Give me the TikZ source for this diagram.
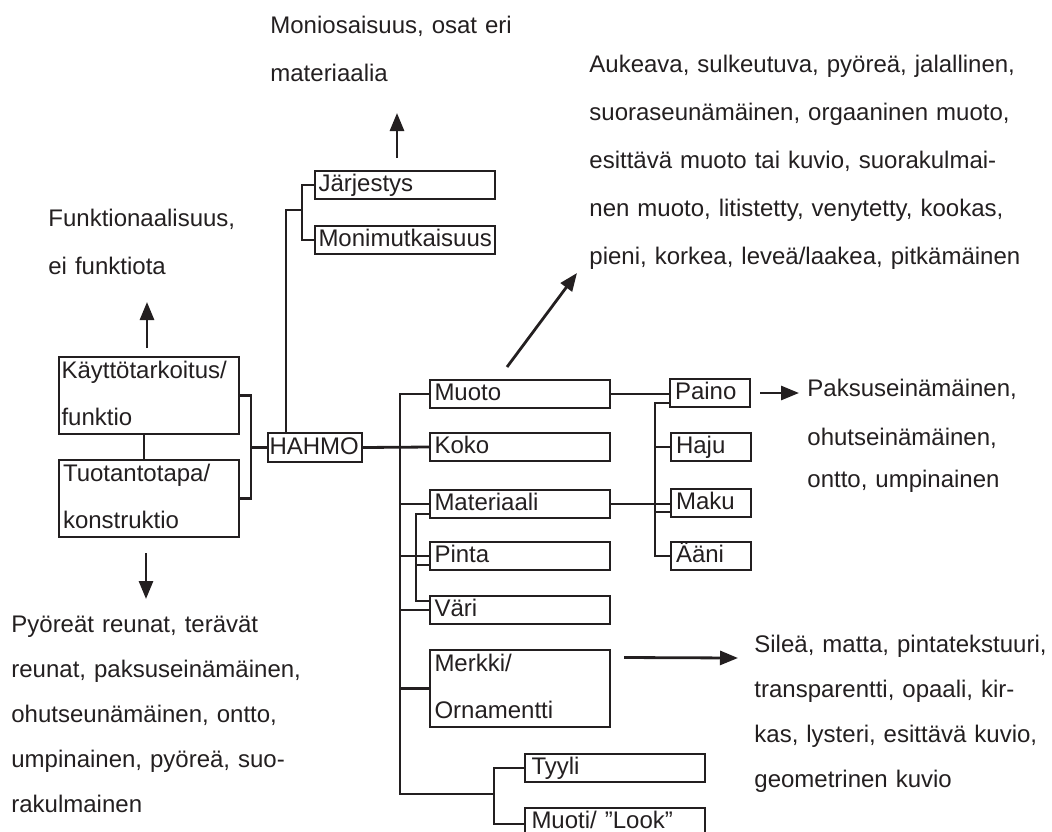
\documentclass[tikz,border=0pt]{standalone}
\usepackage{fontspec}
\setmainfont{Liberation Sans}
\usetikzlibrary{arrows.meta,calc}
\definecolor{ink}{RGB}{35,31,32}
\begin{document}
\begin{tikzpicture}[x=1pt,y=-1pt,
  line width=2.8pt, color=ink,
  bx/.style={draw, rectangle, anchor=north west, outer sep=0pt, inner ysep=0pt,
    align=left, font=\fontsize{24}{47}\selectfont,
    text height=17pt, text depth=4pt, minimum height=28pt},
  bx2/.style={bx, text depth=51pt, minimum height=77pt},
  note/.style={anchor=base west, inner sep=0pt, align=left, text width=440pt,
    font=\fontsize{24}{48}\selectfont},
  notec/.style={note, font=\fontsize{24}{45}\selectfont},
  arr/.style={-{Triangle[length=18pt,width=14pt]}}
]
\useasboundingbox (0,0) rectangle (1052,831);
\clip (0,0) rectangle (1052,831);

% boxes
\node[bx, text width=173pt, inner xsep=3.5pt] (jarj) at (315,171) {Järjestys};
\node[bx, text width=173pt, inner xsep=3.5pt] (moni) at (315,226) {Monimutkaisuus};
\node[bx2, text width=175pt, inner xsep=2.5pt] (kayt) at (59,357) {Käyttötarkoitus/\\funktio};
\node[bx2, text width=172pt, inner xsep=4pt] (tuot) at (59,460) {Tuotantotapa/\\konstruktio};
\node[bx, text width=91pt, inner xsep=1.5pt, minimum height=29pt] (hahmo) at (268,433) {HAHMO};
\node[bx, text width=171pt, inner xsep=4.5pt] (muoto) at (430,380) {Muoto};
\node[bx, text width=171pt, inner xsep=4.5pt] (koko) at (430,433) {Koko};
\node[bx, text width=171pt, inner xsep=4.5pt] (mat) at (430,490) {Materiaali};
\node[bx, text width=171pt, inner xsep=4.5pt] (pinta) at (430,542) {Pinta};
\node[bx, text width=171pt, inner xsep=4.5pt] (vari) at (430,596) {Väri};
\node[bx2, text width=171pt, inner xsep=4.5pt] (merkki) at (430,650) {Merkki/\\Ornamentti};
\node[bx, text width=167pt, inner xsep=6.5pt] (tyyli) at (525,754) {Tyyli};
\node[bx, text width=167pt, inner xsep=6.5pt] (muoti) at (525,808) {Muoti/ ”Look”};
\node[bx, text width=70pt, inner xsep=5pt] (paino) at (670,379) {Paino};
\node[bx, text width=70pt, inner xsep=5pt] (haju) at (671,433) {Haju};
\node[bx, text width=70pt, inner xsep=5pt] (maku) at (671,489) {Maku};
\node[bx, text width=70pt, inner xsep=5pt] (aani) at (671,542) {Ääni};

% notes
\node[note, text width=250pt] (nmoni) at (269,33) {Moniosaisuus, osat eri\\materiaalia};
\node[note, text width=220pt] (nfunk) at (47,226) {Funktionaalisuus,\\ei funktiota};
\node[note, text width=450pt] (nmuoto) at (588,72) {Aukeava, sulkeutuva, pyöreä, jalallinen,\\suoraseunämäinen, orgaaninen muoto,\\esittävä muoto tai kuvio, suorakulmai-\\nen muoto, litistetty, venytetty, kookas,\\pieni, korkea, leveä/laakea, pitkämäinen};
\node[note, text width=240pt, font=\fontsize{24}{49}\selectfont] (npaino) at (806,396) {Paksuseinämäinen,\\ohutseinämäinen,\\[-7pt]ontto, umpinainen};
\node[notec, text width=295pt] (nmerkki) at (753,652) {Sileä, matta, pintatekstuuri,\\transparentti, opaali, kir-\\kas, lysteri, esittävä kuvio,\\geometrinen kuvio};
\node[notec, text width=300pt] (ntuot) at (10,632) {Pyöreät reunat, terävät\\reunat, paksuseinämäinen,\\ohutseunämäinen, ontto,\\umpinainen, pyöreä, suo-\\rakulmainen};

% bracket coordinates
\coordinate (b1) at (302,210);
\coordinate (b2) at (251,447.5);
\coordinate (tb) at (400,794);
\coordinate (tyb) at (494,794);
\coordinate (rx) at (655,0);

% top bracket
\draw (jarj.west) -| (b1);
\draw (moni.west) -| (b1);
\draw (b1) -| ([xshift=18pt]hahmo.north west);
% left bracket
\draw (kayt.east) -| (b2) |- (tuot.east);
\draw (b2) -- (hahmo.west);
\draw ([xshift=-5pt]kayt.south) -- ([xshift=-5pt]tuot.north);
% trunk
\draw (hahmo.east) -- (koko.west);
\draw (muoto.west) -| (tb) -- (tyb);
\draw (mat.west) -- (mat.west -| tb);
\draw (pinta.west) -- (pinta.west -| tb);
\draw (vari.west) -- (vari.west -| tb);
\draw (merkki.west) -- (merkki.west -| tb);
\draw (tyyli.west) -| (tyb) |- ([yshift=-16pt]muoti.north west);
% secondary bracket
\draw ([yshift=4pt]mat.south west) -| ([xshift=-14pt,yshift=-5pt]vari.north west) -- ([yshift=-5pt]vari.north west);
\draw ([yshift=5pt]pinta.south west) -- ++(-14pt,0);
% right group
\draw (muoto.east) -- (muoto.east -| paino.west);
\draw (mat.east) -- (mat.east -| maku.west);
\draw ([yshift=4pt]paino.south west) -| (rx |- aani.west) -- (aani.west);
\draw (haju.west) -- (rx |- haju.west);
\draw ([yshift=5pt]maku.south west) -- ++(-16pt,0);

% arrows
\coordinate (aj) at (397,113);
\coordinate (af) at (147,302);
\coordinate (at) at (146,599);
\coordinate (am) at (577,273);
\coordinate (ap) at (799,393);
\coordinate (ak) at (738,658);
\draw[arr] ([xshift=-8pt,yshift=13pt]jarj.north) -- (aj);
\draw[arr] ([xshift=-2pt,yshift=9pt]kayt.north) -- (af);
\draw[arr] ([xshift=-3pt,yshift=-16pt]tuot.south) -- (at);
\draw[arr] ([xshift=-13pt,yshift=13pt]muoto.north) -- (am);
\draw[arr] ([xshift=10pt]paino.east) -- (ap);
\draw[arr] ([xshift=14pt,yshift=31pt]merkki.east) -- (ak);
\end{tikzpicture}
\end{document}
